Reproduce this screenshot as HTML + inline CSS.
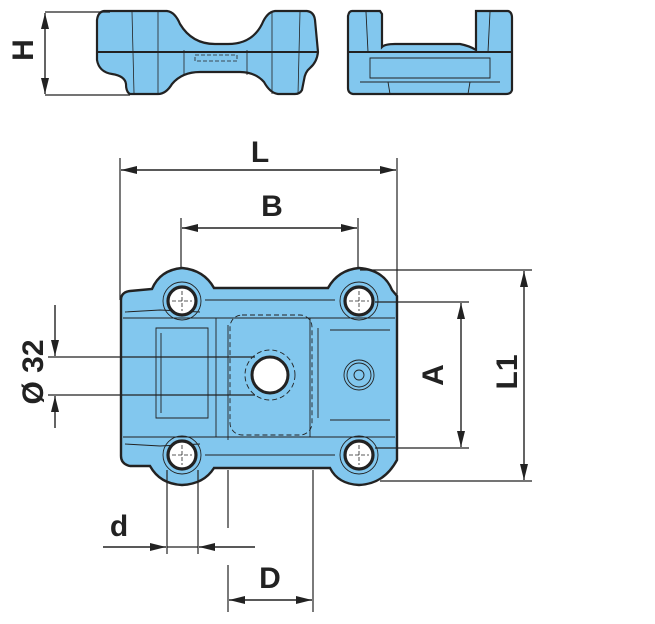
<!DOCTYPE html>
<html><head><meta charset="utf-8"><style>
html,body{margin:0;padding:0;background:#fff;width:655px;height:624px;overflow:hidden}
svg{display:block}
text{font-family:"Liberation Sans",sans-serif;font-weight:bold;fill:#222}
</style></head><body>
<svg width="655" height="624" viewBox="0 0 655 624" xmlns="http://www.w3.org/2000/svg">
<defs>
<marker id="a" viewBox="0 0 16 8" refX="16" refY="4" markerWidth="16" markerHeight="8" markerUnits="userSpaceOnUse" orient="auto-start-reverse"><path d="M0,0 L16,4 L0,8 Z" fill="#222"/></marker>
</defs>
<g stroke="#222" stroke-width="1.6" fill="none">
<!-- side view 1 -->
<path d="M104,11 L167,11 Q175,12 180,24 Q192,44 215,44 L228,44 Q252,44 262,24 Q267,12 275,11 L307,11 Q314,12 315,20 L318,52 Q317,62 310,68 Q305,72 304,80 L302,90 Q300,94 295,94 L278,94 Q270,93 264,82 Q255,72 240,72 L200,72 Q182,72 172,84 Q166,94 158,94 L130,94 Q126,92 126,84 Q125,76 112,74 Q99,72 97,60 L97,20 Q98,12 104,11 Z" fill="#82c7ee" stroke-width="2.2"/>
<path d="M96,52 L318,52" stroke-width="2"/>
<path d="M132,12 L134,93 M158,12 L158,94 M272,12 L272,94 M300,12 L298,94 M184,50 L184,75 M247,50 L247,75" stroke-width="0.8"/>
<path d="M195,55 L237,55 L237,61 L195,61 Z" stroke-dasharray="4,2" stroke-width="0.8"/>
<!-- side view 2 -->
<path d="M352,11 L380,11 L382,14 L382,47 Q385,44 395,44 L460,44 Q470,46 476,50 L476,11 L508,11 Q512,12 512,18 L512,90 Q511,94 506,94 L353,94 Q348,93 348,88 L348,16 Q349,11 352,11 Z" fill="#82c7ee" stroke-width="2.2"/>
<path d="M348,52 L512,52" stroke-width="2"/>
<path d="M370,58 L490,58 L490,78 L370,78 Z M360,82 L500,82 M366,12 L368,52 M490,12 L488,52 M388,82 L390,94 M470,82 L468,94" stroke-width="0.9"/>
<!-- H dimension -->
<path d="M45,12 L110,12 M45,95 L130,95" stroke-width="1.2"/>
<path d="M45,13 L45,94" marker-start="url(#a)" marker-end="url(#a)" stroke-width="1.4"/>
<!-- main body -->
<path d="M121,300 Q121,292 130,291 L152,289 Q160,270 182,268 Q204,270 214,288 L328,288 Q338,270 359,268 Q384,270 392,290 L397,296 L397,460 Q384,484 359,485 Q338,484 330,468 L214,468 Q204,484 182,485 Q160,484 150,466 L130,466 Q121,464 121,456 Z" fill="#82c7ee" stroke-width="2.4"/>
<path d="M123,318 L395,318 M123,437 L395,437 M156,328 L156,418 L208,418 L208,328 Z M161,333 L161,413 M318,328 L318,418 M330,330 L390,330 M330,420 L390,420 M216,318 L216,437 M228,325 L228,440 M310,318 L310,437 M205,300 L335,300 M205,455 L335,455 M125,312 L160,310 L200,312 M125,444 L160,446 L200,444" stroke-width="0.9"/>
<rect x="230" y="315" width="82" height="120" rx="12" stroke-dasharray="5,3" stroke-width="0.9"/>
<circle cx="270" cy="375" r="25" stroke-dasharray="5,3" stroke-width="0.9"/>
<circle cx="270" cy="375" r="18" fill="#fff" stroke-width="3"/>
<circle cx="359" cy="375" r="15" stroke-width="0.9"/><circle cx="359" cy="375" r="12" stroke-width="0.9"/><circle cx="359" cy="375" r="5" stroke-width="0.9"/>
<g stroke-width="0.9">
<circle cx="182" cy="301" r="19"/><circle cx="359" cy="301" r="19"/><circle cx="182" cy="455" r="19"/><circle cx="359" cy="455" r="19"/>
</g>
<g fill="#fff" stroke-width="3.2">
<circle cx="182" cy="301" r="14"/><circle cx="359" cy="301" r="14"/><circle cx="182" cy="455" r="14"/><circle cx="359" cy="455" r="14"/>
</g>
<path d="M172,301 L192,301 M182,291 L182,311 M349,301 L369,301 M359,291 L359,311 M172,455 L192,455 M182,445 L182,465 M349,455 L369,455 M359,445 L359,465" stroke-dasharray="4,2" stroke-width="0.8"/>
<!-- L, B -->
<path d="M120,158 L120,300 M397,158 L397,296 M181,218 L181,268 M358,218 L358,268" stroke-width="1.2"/>
<path d="M121,170 L396,170" marker-start="url(#a)" marker-end="url(#a)" stroke-width="1.4"/>
<path d="M182,228 L357,228" marker-start="url(#a)" marker-end="url(#a)" stroke-width="1.4"/>
<!-- L1, A -->
<path d="M360,270 L532,270 M380,481 L532,481 M375,302 L469,302 M375,448 L469,448" stroke-width="1.2"/>
<path d="M524,271 L524,480" marker-start="url(#a)" marker-end="url(#a)" stroke-width="1.4"/>
<path d="M461,303 L461,447" marker-start="url(#a)" marker-end="url(#a)" stroke-width="1.4"/>
<!-- Ø32 -->
<path d="M48,357 L255,357 M48,395 L255,395" stroke-width="1.2"/>
<path d="M55,305 L55,356" marker-end="url(#a)" stroke-width="1.4"/>
<path d="M55,428 L55,396" marker-end="url(#a)" stroke-width="1.4"/>
<!-- d -->
<path d="M167,470 L167,554 M198,470 L198,554 M228,470 L228,528 M228,565 L228,612 M313,470 L313,612" stroke-width="1.2"/>
<path d="M103,547 L166,547" marker-end="url(#a)" stroke-width="1.4"/>
<path d="M255,547 L199,547" marker-end="url(#a)" stroke-width="1.4"/>
<path d="M167,547 L198,547" stroke-width="1.2"/>
<path d="M229,600 L312,600" marker-start="url(#a)" marker-end="url(#a)" stroke-width="1.4"/>
</g>
<text x="260" y="162" font-size="30" text-anchor="middle">L</text>
<text x="272" y="216" font-size="30" text-anchor="middle">B</text>
<text x="119" y="536" font-size="30" text-anchor="middle">d</text>
<text x="270" y="588" font-size="30" text-anchor="middle">D</text>
<text transform="translate(33,50) rotate(-90)" font-size="30" text-anchor="middle">H</text>
<text transform="translate(43,372) rotate(-90)" font-size="30" text-anchor="middle">Ø 32</text>
<text transform="translate(443,375) rotate(-90)" font-size="30" text-anchor="middle">A</text>
<text transform="translate(517,372) rotate(-90)" font-size="30" text-anchor="middle">L1</text>
</svg>
</body></html>
